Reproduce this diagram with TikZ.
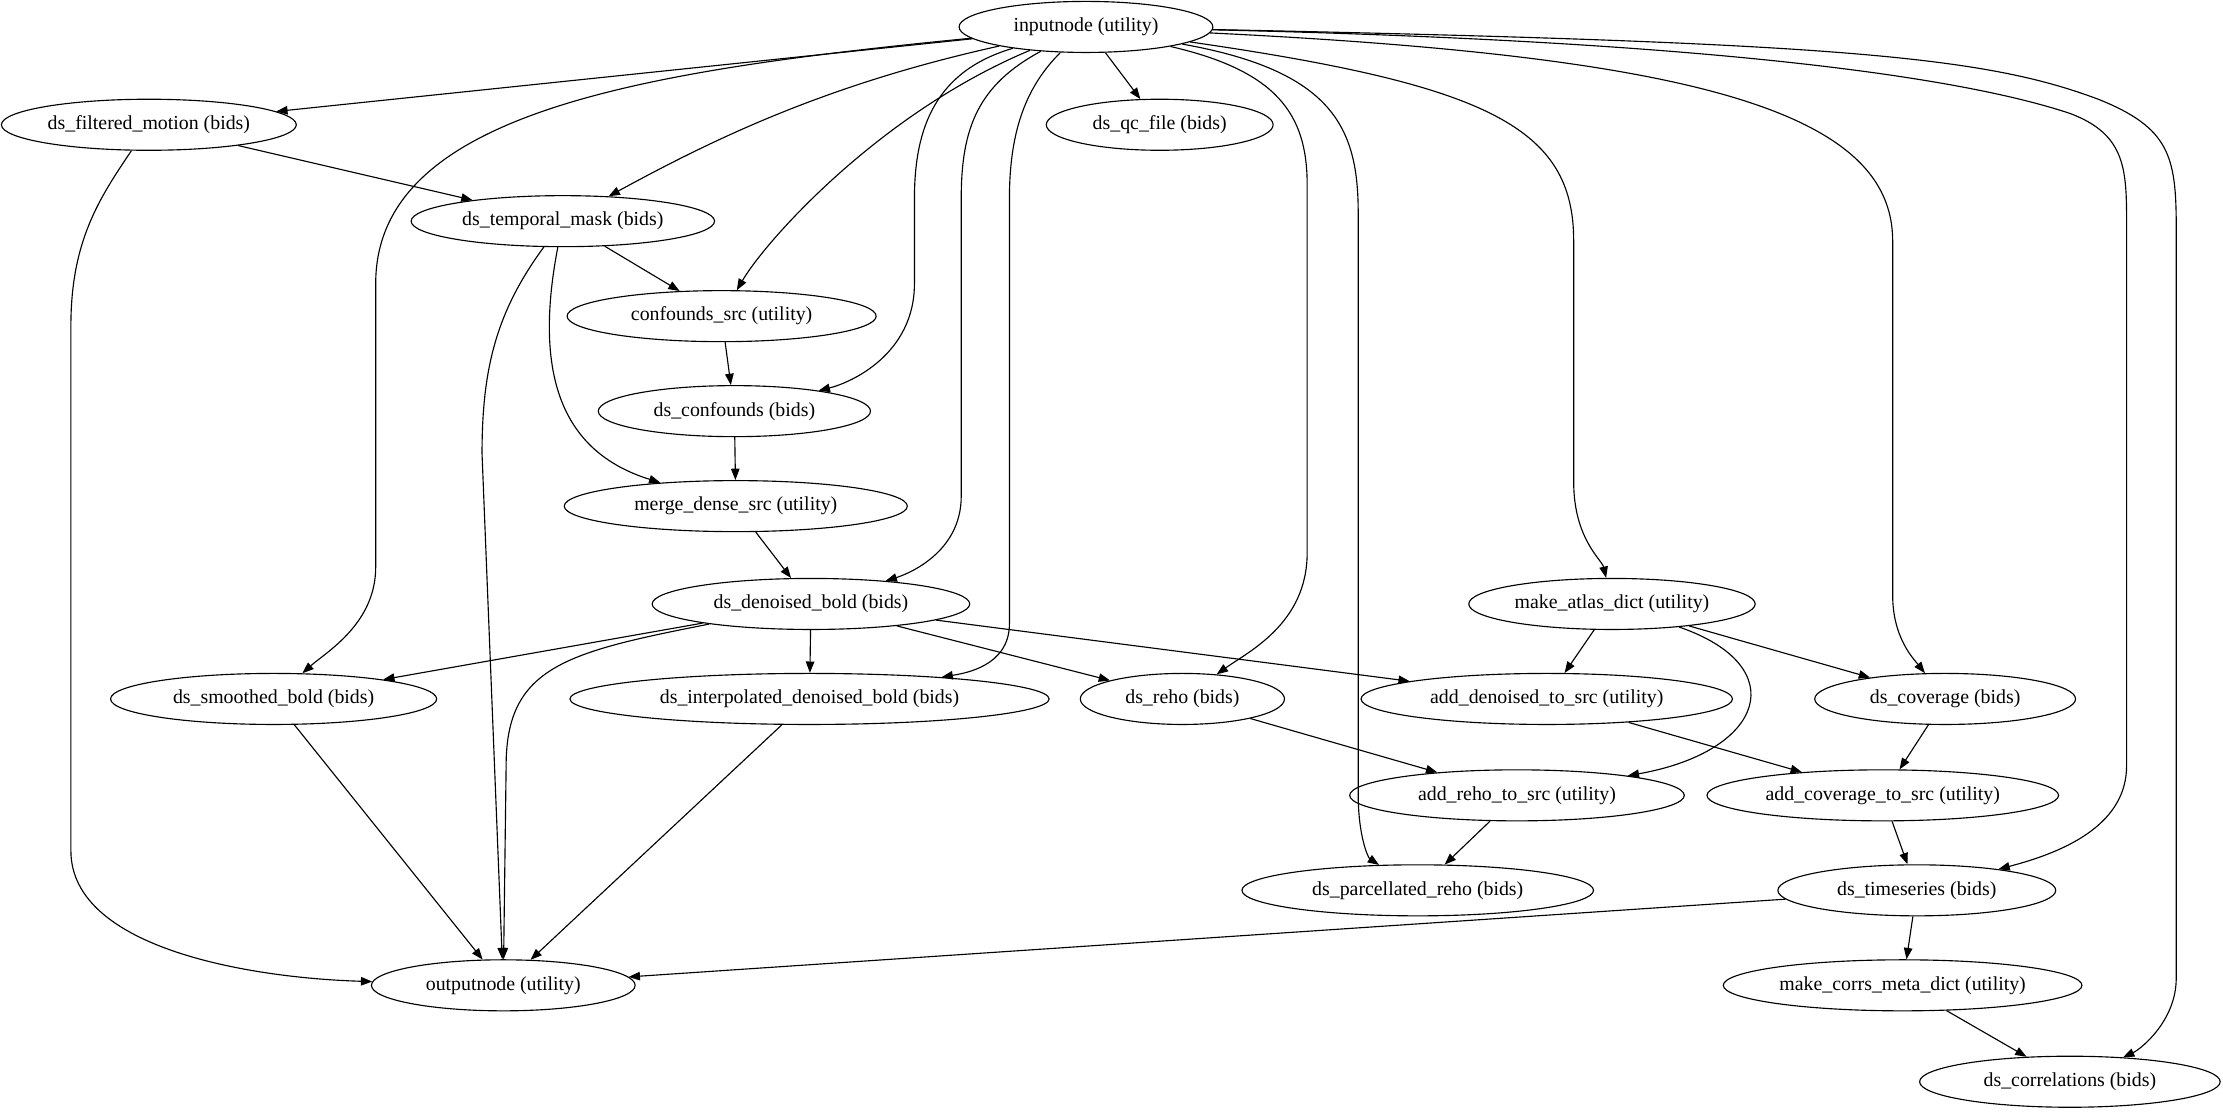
\documentclass[tikz,border=0pt]{standalone}
\usepackage{fontspec}
\setmainfont{Liberation Serif}
\usetikzlibrary{shapes.geometric, arrows.meta}

\begin{document}
\begin{tikzpicture}[x=1pt, y=-1pt,
    wf/.style={ellipse, draw, thick, inner sep=0pt, minimum height=36pt,
               font=\fontsize{14}{16}\selectfont},
    link/.style={-{Triangle[length=8pt,width=6pt]}, thick}]

    \useasboundingbox (0,0) rectangle (1568,786);

    % Nodes
    \node[wf, minimum width=179pt] (inputnode) at (766,19) {inputnode (utility)};
    \node[wf, minimum width=208pt] (dsfiltered) at (105,88) {ds\_filtered\_motion (bids)};
    \node[wf, minimum width=160pt] (dsqc) at (818,88) {ds\_qc\_file (bids)};
    \node[wf, minimum width=214pt] (dstmask) at (397,156) {ds\_temporal\_mask (bids)};
    \node[wf, minimum width=218pt] (confsrc) at (509,223) {confounds\_src (utility)};
    \node[wf, minimum width=192pt] (dsconf) at (518,290) {ds\_confounds (bids)};
    \node[wf, minimum width=242pt] (mergesrc) at (519,357) {merge\_dense\_src (utility)};
    \node[wf, minimum width=224pt] (dsdenoised) at (572,426) {ds\_denoised\_bold (bids)};
    \node[wf, minimum width=202pt] (atlasdict) at (1137,426) {make\_atlas\_dict (utility)};
    \node[wf, minimum width=230pt] (dssmoothed) at (193,493) {ds\_smoothed\_bold (bids)};
    \node[wf, minimum width=338pt] (dsinterp) at (571,493) {ds\_interpolated\_denoised\_bold (bids)};
    \node[wf, minimum width=144pt] (dsreho) at (834,493) {ds\_reho (bids)};
    \node[wf, minimum width=262pt] (adddenoised) at (1091,493) {add\_denoised\_to\_src (utility)};
    \node[wf, minimum width=184pt] (dscoverage) at (1372,493) {ds\_coverage (bids)};
    \node[wf, minimum width=236pt] (addreho) at (1070,561) {add\_reho\_to\_src (utility)};
    \node[wf, minimum width=248pt] (addcoverage) at (1328,561) {add\_coverage\_to\_src (utility)};
    \node[wf, minimum width=248pt] (dsparcreho) at (1000,628) {ds\_parcellated\_reho (bids)};
    \node[wf, minimum width=196pt] (dstimeseries) at (1352,628) {ds\_timeseries (bids)};
    \node[wf, minimum width=186pt] (outputnode) at (355,695) {outputnode (utility)};
    \node[wf, minimum width=253pt] (corrsmeta) at (1342,695) {make\_corrs\_meta\_dict (utility)};
    \node[wf, minimum width=212pt] (dscorr) at (1460,763) {ds\_correlations (bids)};

    % Edges from inputnode
    \draw[link] (inputnode) -- (dsfiltered);
    \draw[link] (inputnode) -- (dsqc);
    \draw[link] (inputnode) .. controls (580,60) and (500,100) .. (dstmask);
    \draw[link] (inputnode) .. controls (620,80) and (540,170) .. (confsrc);
    \draw[link] (inputnode) .. controls (660,50) and (645,90) .. (645,140) -- (645,200)
        .. controls (645,250) and (600,270) .. (dsconf);
    \draw[link] (inputnode) .. controls (690,60) and (678,90) .. (678,140) -- (678,350)
        .. controls (678,390) and (640,405) .. (dsdenoised);
    \draw[link] (inputnode) .. controls (725,60) and (712,90) .. (712,140) -- (712,440)
        .. controls (712,470) and (680,475) .. (dsinterp);
    \draw[link] (inputnode) .. controls (450,50) and (265,80) .. (265,200) -- (265,400)
        .. controls (265,440) and (230,460) .. (dssmoothed);
    \draw[link] (inputnode) .. controls (900,50) and (922,80) .. (922,130) -- (922,390)
        .. controls (922,440) and (880,460) .. (dsreho);
    \draw[link] (inputnode) .. controls (940,50) and (958,90) .. (958,150) -- (958,560)
        .. controls (958,590) and (965,605) .. (dsparcreho);
    \draw[link] (inputnode) .. controls (1050,60) and (1110,90) .. (1110,170) -- (1110,340)
        .. controls (1110,380) and (1130,395) .. (atlasdict);
    \draw[link] (inputnode) .. controls (1200,40) and (1335,80) .. (1335,170) -- (1335,420)
        .. controls (1335,450) and (1350,465) .. (dscoverage);
    \draw[link] (inputnode) .. controls (1250,30) and (1400,60) .. (1460,80)
        .. controls (1500,95) and (1500,120) .. (1500,160) -- (1500,540)
        .. controls (1500,580) and (1460,600) .. (dstimeseries);
    \draw[link] (inputnode) .. controls (1300,30) and (1400,40) .. (1480,70)
        .. controls (1530,90) and (1535,110) .. (1535,160) -- (1535,690)
        .. controls (1535,720) and (1510,740) .. (dscorr);

    % Remaining edges
    \draw[link] (dsfiltered) -- (dstmask);
    \draw[link] (dsfiltered) .. controls (70,140) and (50,170) .. (50,230) -- (50,600)
        .. controls (50,670) and (180,690) .. (outputnode);
    \draw[link] (dstmask) -- (confsrc);
    \draw[link] (dstmask) .. controls (350,220) and (340,260) .. (340,320) -- (outputnode);
    \draw[link] (dstmask) .. controls (375,270) and (400,320) .. (mergesrc);
    \draw[link] (confsrc) -- (dsconf);
    \draw[link] (dsconf) -- (mergesrc);
    \draw[link] (mergesrc) -- (dsdenoised);
    \draw[link] (dsdenoised) -- (dssmoothed);
    \draw[link] (dsdenoised) -- (dsinterp);
    \draw[link] (dsdenoised) -- (dsreho);
    \draw[link] (dsdenoised) -- (adddenoised);
    \draw[link] (dsdenoised) .. controls (400,460) and (357,470) .. (357,540) -- (outputnode);
    \draw[link] (atlasdict) -- (adddenoised);
    \draw[link] (atlasdict) -- (dscoverage);
    \draw[link] (atlasdict) .. controls (1265,470) and (1245,530) .. (addreho);
    \draw[link] (dssmoothed) -- (outputnode);
    \draw[link] (dsinterp) -- (outputnode);
    \draw[link] (dsreho) -- (addreho);
    \draw[link] (adddenoised) -- (addcoverage);
    \draw[link] (dscoverage) -- (addcoverage);
    \draw[link] (addreho) -- (dsparcreho);
    \draw[link] (addcoverage) -- (dstimeseries);
    \draw[link] (dstimeseries) -- (outputnode);
    \draw[link] (dstimeseries) -- (corrsmeta);
    \draw[link] (corrsmeta) -- (dscorr);
\end{tikzpicture}
\end{document}
